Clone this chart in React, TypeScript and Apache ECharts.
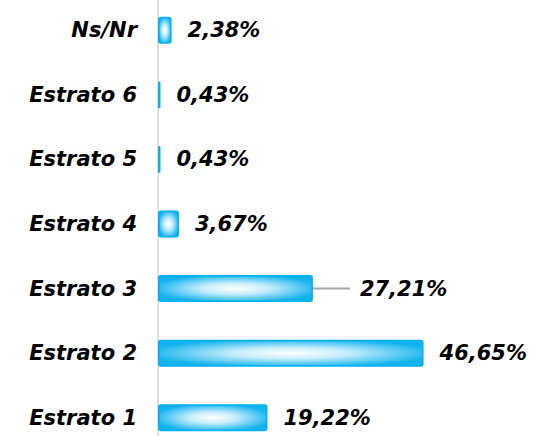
import React, { useEffect, useRef } from "react";
import * as echarts from "echarts";

const categories = ["Estrato 1", "Estrato 2", "Estrato 3", "Estrato 4", "Estrato 5", "Estrato 6", "Ns/Nr"];
const values = [19.22, 46.65, 27.21, 3.67, 0.43, 0.43, 2.38];
const guidedIndex = 2;

const FONT = "'DejaVu Sans', sans-serif";

export default function App() {
  const ref = useRef<HTMLDivElement>(null);
  useEffect(() => {
    if (!ref.current) return;
    const chart = echarts.init(ref.current, null, { renderer: "svg" });
    const barColor = {
      type: "radial",
      x: 0.5,
      y: 0.5,
      r: 0.55,
      colorStops: [
        { offset: 0, color: "#ffffff" },
        { offset: 0.4, color: "#c4edfc" },
        { offset: 1, color: "#12b3ef" },
      ],
    };
    const fmt = (v: number) => v.toFixed(2).replace(".", ",") + "%";
    const textStyle = {
      color: "#000",
      fontFamily: FONT,
      fontSize: 21,
      fontWeight: "bold",
      fontStyle: "italic",
    };
    chart.setOption({
      animation: false,
      grid: {
        left: 158,
        width: 370,
        top: -2,
        height: 452,
        containLabel: false,
        outerBoundsMode: "none",
      },
      xAxis: { type: "value", min: 0, max: 65, show: false },
      yAxis: {
        type: "category",
        data: categories,
        axisLine: { show: true, lineStyle: { color: "#d4d4d4", width: 1.5 } },
        axisTick: { show: false },
        splitLine: { show: false },
        axisLabel: { margin: 21, ...textStyle },
      },
      series: [
        {
          type: "bar",
          barWidth: 27,
          data: values.map((v, i) =>
            i === guidedIndex
              ? {
                  value: v,
                  label: { formatter: "{g|}{v|" + fmt(v) + "}" },
                  labelLine: { show: true },
                }
              : { value: v }
          ),
          itemStyle: {
            color: barColor,
            borderColor: "#00b0f0",
            borderWidth: 1.5,
            borderRadius: 2,
          },
          label: {
            show: true,
            position: "right",
            distance: 16,
            ...textStyle,
            formatter: (p: any) => fmt(p.value),
            rich: {
              g: { width: 10, height: 10 },
              v: { ...textStyle },
            },
          },
          labelLine: { show: false, lineStyle: { color: "#a6a6a6", width: 2 } },
          labelLayout: (p: any) => (p.dataIndex === guidedIndex ? { dx: 21 } : {}),
        },
      ],
    });
    return () => chart.dispose();
  }, []);
  return (
    <div
      ref={ref}
      style={{ position: "fixed", left: 0, top: 0, width: 542, height: 436, background: "#fff" }}
    />
  );
}
